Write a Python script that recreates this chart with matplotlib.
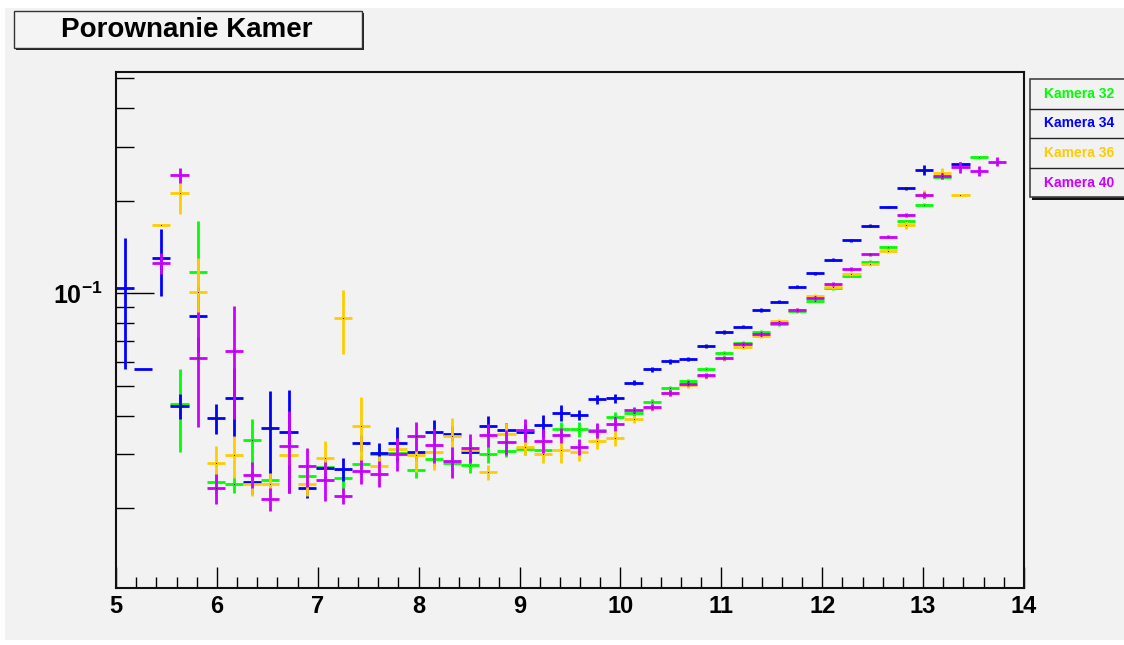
import numpy as np
import matplotlib
matplotlib.use('Agg')
import matplotlib.pyplot as plt
from matplotlib.patches import Rectangle

plt.rcParams['mathtext.fontset'] = 'custom'
plt.rcParams['mathtext.bf'] = 'Liberation Sans:bold'
plt.rcParams['mathtext.rm'] = 'Liberation Sans'

nan = np.nan

# histogram binning: 50 bins of width 0.18 starting at 5
bin_lo = 5.0
bin_w = 0.18
n_bins = 50

labels = ['Kamera 32', 'Kamera 34', 'Kamera 36', 'Kamera 40']
colors = ['#00ff00', '#0000ff', '#ffcc00', '#cc00ff']

kam32 = [nan, nan, nan, 0.0436, 0.117, 0.02435, 0.0240, 0.03335, 0.0247, nan,
         0.0255, 0.0272, 0.0251, 0.0279, 0.0300, 0.0302, 0.0266, 0.0289, 0.0281, 0.0276,
         0.0300, 0.0308, 0.0312, 0.0310, 0.0362, 0.0361, 0.0359, 0.0397, 0.0408, 0.0444,
         0.0491, 0.0520, 0.0569, 0.0638, 0.0691, 0.0750, 0.0793, 0.0873, 0.0946, 0.1040,
         0.1141, 0.1267, 0.1411, 0.1714, 0.1941, 0.2395, nan, 0.2767, nan, nan]
kam32_err = [nan, nan, nan, 0.013, 0.055, 0.002, 0.0015, 0.0056, 0.002, nan,
             0.002, 0.002, 0.002, 0.002, 0.002, 0.002, 0.0015, 0.0015, 0.0015, 0.0015,
             0.002, 0.0015, 0.0015, 0.0015, 0.002, 0.002, 0.0015, 0.0015, 0.0008, 0.0008,
             0.0008, 0.0008, 0.0008, 0.0009, 0.0009, 0.001, 0.001, 0.001, 0.0011, 0.0012,
             0.0013, 0.0014, 0.0016, 0.002, 0.0025, 0.004, nan, 0.003, nan, nan]

kam34 = [0.1038, 0.0569, 0.130, 0.0431, 0.0846, 0.0392, 0.0457, 0.0243, 0.0365, 0.0354,
         0.0233, 0.0270, 0.0268, 0.0327, 0.0303, 0.0327, 0.0306, 0.0355, 0.0350, 0.0306,
         0.0371, 0.0359, 0.0355, 0.0372, 0.0409, 0.0403, 0.0452, 0.0456, 0.0512, 0.0566,
         0.0601, 0.0613, 0.0676, 0.0748, 0.0779, 0.0883, 0.0939, 0.1051, 0.1164, 0.1286,
         0.1487, 0.1659, 0.1908, 0.2195, 0.2522, nan, 0.2626, nan, nan, nan]
kam34_err = [0.047, 0.0, 0.032, 0.004, 0.02, 0.0044, 0.0115, 0.002, 0.0115, 0.013,
             0.0017, 0.002, 0.0023, 0.002, 0.0024, 0.0042, 0.002, 0.0033, 0.002, 0.002,
             0.0028, 0.002, 0.002, 0.003, 0.0025, 0.0015, 0.0015, 0.0015, 0.001, 0.001,
             0.001, 0.001, 0.001, 0.001, 0.001, 0.0011, 0.0011, 0.0012, 0.0013, 0.0014,
             0.0016, 0.0018, 0.002, 0.0025, 0.0095, nan, 0.005, nan, nan, nan]

kam36 = [nan, nan, 0.1667, 0.2118, 0.101, 0.0280, 0.0297, 0.0240, 0.0240, 0.0297,
         0.0240, 0.0292, 0.0831, 0.0371, 0.0275, 0.0312, 0.0298, 0.0306, 0.0344, 0.0310,
         0.0262, 0.0350, 0.0317, 0.0301, 0.0310, 0.0306, 0.0331, 0.0338, 0.0389, 0.0423,
         0.0473, 0.0503, 0.0538, 0.0614, 0.0671, 0.0728, 0.0814, 0.0885, 0.0982, 0.1046,
         0.1155, 0.1243, 0.1375, 0.1671, 0.2095, 0.2466, 0.2092, nan, nan, nan]
kam36_err = [nan, nan, 0.0, 0.031, 0.029, 0.004, 0.0046, 0.002, 0.002, 0.002,
             0.002, 0.0038, 0.0196, 0.009, 0.002, 0.002, 0.0035, 0.004, 0.0049, 0.002,
             0.0015, 0.003, 0.002, 0.002, 0.003, 0.002, 0.002, 0.002, 0.001, 0.001,
             0.001, 0.001, 0.001, 0.001, 0.001, 0.0011, 0.0012, 0.0013, 0.0014, 0.0015,
             0.0016, 0.0018, 0.002, 0.005, 0.007, 0.0092, 0.0, nan, nan, nan]

kam40 = [nan, nan, 0.1252, 0.2418, 0.0617, 0.0233, 0.0651, 0.0257, 0.02145, 0.0319,
         0.0275, 0.0247, 0.0219, 0.0264, 0.0259, 0.0301, 0.0344, 0.0321, 0.0284, 0.0315,
         0.0346, 0.0329, 0.0359, 0.0332, 0.0346, 0.0317, 0.0358, 0.0377, 0.0417, 0.0428,
         0.0475, 0.0508, 0.0542, 0.0616, 0.0683, 0.0739, 0.0802, 0.0880, 0.0966, 0.1075,
         0.1202, 0.1339, 0.1528, 0.1793, 0.2088, 0.2406, 0.2568, 0.2503, 0.2678, nan]
kam40_err = [nan, nan, 0.01, 0.013, 0.025, 0.0026, 0.026, 0.0025, 0.0018, 0.0095,
             0.004, 0.0035, 0.0013, 0.0024, 0.0025, 0.0037, 0.0037, 0.004, 0.0033, 0.0034,
             0.003, 0.003, 0.003, 0.003, 0.002, 0.002, 0.002, 0.002, 0.001, 0.001,
             0.001, 0.001, 0.001, 0.001, 0.001, 0.0011, 0.0012, 0.0013, 0.0014, 0.0015,
             0.0016, 0.0018, 0.002, 0.0025, 0.004, 0.006, 0.01, 0.009, 0.009, nan]

x_ticks = [5, 6, 7, 8, 9, 10, 11, 12, 13, 14]

series = [(kam32, kam32_err), (kam34, kam34_err), (kam36, kam36_err), (kam40, kam40_err)]

W, H = 1124, 645
bg = '#f2f2f2'

def fx(px):
    return px / W

def fy(py):
    return 1 - py / H

fig = plt.figure(figsize=(W / 100, H / 100), dpi=100, facecolor='white')

# grey canvas (white strip at top/left like the screenshot)
fig.patches.append(Rectangle((fx(5), fy(640)), fx(1124) - fx(5), fy(8) - fy(640),
                             transform=fig.transFigure, facecolor=bg, edgecolor='none', zorder=-10))

ax = fig.add_axes([fx(116), fy(588.3), fx(1024) - fx(116), fy(72.3) - fy(588.3)])
ax.set_zorder(1)
ax.set_facecolor(bg)

centers = bin_lo + bin_w * (np.arange(n_bins) + 0.5)

for (vals, errs), c in zip(series, colors):
    vals = np.array(vals, dtype=float)
    errs = np.array(errs, dtype=float)
    ax.errorbar(centers, vals, xerr=bin_w / 2, yerr=errs, fmt='none',
                ecolor=c, elinewidth=2, capsize=0)
    ax.plot(centers, vals, ls='none', marker='s', ms=0.6, mew=0, color='#222222')

ax.set_yscale('log')
ax.set_xlim(5, 14)
ax.set_ylim(0.01099, 0.5231)

# ticks, ROOT style: inward, bottom/left only
ax.set_xticks(x_ticks)
ax.set_xticklabels([str(t) for t in x_ticks])
ax.set_xticks(np.arange(5, 14.01, 0.2), minor=True)
ax.set_yticks([0.1])
ax.set_yticklabels([r'$\mathbf{10^{-1}}$'])
ax.set_yticks([0.02, 0.03, 0.04, 0.05, 0.06, 0.07, 0.08, 0.09, 0.2, 0.3, 0.4, 0.5], minor=True)
ax.yaxis.set_minor_formatter(matplotlib.ticker.NullFormatter())
ax.tick_params(axis='x', which='major', direction='in', length=15, width=1, pad=5,
               labelsize=17)
ax.tick_params(axis='x', which='minor', direction='in', length=8, width=1)
ax.tick_params(axis='y', which='major', direction='in', length=27, width=1, pad=10,
               labelsize=18)
ax.tick_params(axis='y', which='minor', direction='in', length=13, width=1)
for lab in ax.get_xticklabels() + ax.get_yticklabels():
    lab.set_fontweight('bold')
    lab.set_fontfamily('Liberation Sans')
for sp in ax.spines.values():
    sp.set_linewidth(1.5)
    sp.set_color('#111111')

# title box with shadow
fig.patches.append(Rectangle((fx(15.5), fy(49.5)), fx(362.5) - fx(13.5), fy(11) - fy(47.5),
                             transform=fig.transFigure, facecolor='#222222', edgecolor='none', zorder=2))
fig.patches.append(Rectangle((fx(13.5), fy(47.5)), fx(362.5) - fx(13.5), fy(11) - fy(47.5),
                             transform=fig.transFigure, facecolor='#f4f4f4', edgecolor='#333333',
                             linewidth=1, zorder=3))
fig.text(fx(187), fy(30), 'Porownanie Kamer', ha='center', va='center', fontsize=20,
         fontweight='bold', family='Liberation Sans', zorder=4)

# legend box with shadow
leg_top, row_h = 79, 29.6
leg_bot = leg_top + row_h * len(labels)
fig.patches.append(Rectangle((fx(1032), fy(leg_bot + 3)), fx(1130) - fx(1032), fy(leg_top + 3) - fy(leg_bot + 3),
                             transform=fig.transFigure, facecolor='#111111', edgecolor='none', zorder=2))
fig.patches.append(Rectangle((fx(1030), fy(leg_bot)), fx(1130) - fx(1030), fy(leg_top) - fy(leg_bot),
                             transform=fig.transFigure, facecolor=bg, edgecolor='#444444',
                             linewidth=1.2, zorder=3))
for i, (lab, c) in enumerate(zip(labels, colors)):
    if i > 0:
        yl = fy(leg_top + row_h * i)
        fig.add_artist(matplotlib.lines.Line2D([fx(1030), fx(1124)], [yl, yl],
                                               color='#222222', lw=1, zorder=4))
    fig.text(fx(1079), fy(leg_top + row_h * (i + 0.5)), lab, color=c, ha='center', va='center',
             fontsize=10, fontweight='bold', family='Liberation Sans', zorder=5)

fig.savefig('out.png', dpi=100, facecolor=fig.get_facecolor())
